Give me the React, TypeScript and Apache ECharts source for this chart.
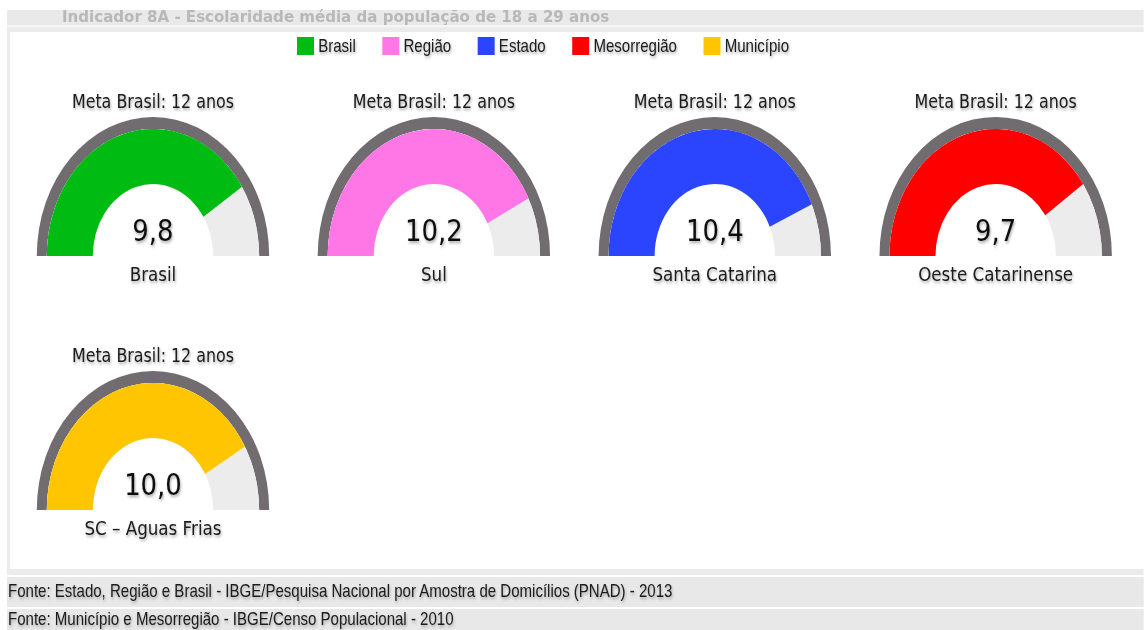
import React, { useEffect, useRef } from "react";
import * as echarts from "echarts";

// ---- data ----
const legendNames = ["Brasil", "Região", "Estado", "Mesorregião", "Município"];
const legendColors = ["#00bb11", "#ff77e6", "#2b45ff", "#ff0000", "#ffc600"];
const gaugeLabels = ["Brasil", "Sul", "Santa Catarina", "Oeste Catarinense", "SC – Aguas Frias"];
const gaugeValues = [9.8, 10.2, 10.4, 9.7, 10.0];
const gaugeMin = 0;
const gaugeMax = 12;
const metaLabel = "Meta Brasil: 12 anos";
const pageTitle = "Indicador 8A - Escolaridade média da população de 18 a 29 anos";
const footnotes = [
  "Fonte: Estado, Região e Brasil - IBGE/Pesquisa Nacional por Amostra de Domicílios (PNAD) - 2013",
  "Fonte: Município e Mesorregião - IBGE/Censo Populacional - 2010",
];

// ---- layout (unscaled coordinates; the whole picture is squeezed horizontally) ----
const SX = 0.836;
const W = Math.round(1144 / SX);
const H = 630;
const colX = [183, 519, 855, 1191];
const rowY = [256, 510];
const R_OUT = 139;
const RING_W = 12;
const R_BAND = R_OUT - RING_W;
const BAND_W = 55;

const shadow = {
  textShadowColor: "rgba(0,0,0,0.35)",
  textShadowBlur: 3,
  textShadowOffsetX: 1,
  textShadowOffsetY: 2,
};

const px = (x: number) => x / SX;

export default function App() {
  const ref = useRef<HTMLDivElement>(null);
  useEffect(() => {
    document.body.style.margin = "0";
    document.body.style.overflow = "hidden";
    const chart = echarts.init(ref.current!, null, { renderer: "svg" });

    const series: any[] = [];
    const graphics: any[] = [];
    gaugeValues.forEach((v, i) => {
      const cx = colX[i % 4];
      const cy = rowY[Math.floor(i / 4)];
      const common = {
        type: "gauge",
        center: [cx, cy],
        startAngle: 180,
        endAngle: 0,
        min: gaugeMin,
        max: gaugeMax,
        pointer: { show: false },
        axisTick: { show: false },
        splitLine: { show: false },
        axisLabel: { show: false },
        anchor: { show: false },
      };
      series.push({
        ...common,
        radius: R_OUT,
        axisLine: { lineStyle: { width: RING_W, color: [[1, "#716c6f"]] } },
        title: { show: false },
        detail: { show: false },
        data: [{ value: 0 }],
        silent: true,
      });
      series.push({
        ...common,
        name: legendNames[i],
        radius: R_BAND,
        itemStyle: { color: legendColors[i] },
        axisLine: { lineStyle: { width: BAND_W, color: [[1, "#ececec"]] } },
        progress: { show: true, width: BAND_W, itemStyle: { color: legendColors[i] } },
        title: {
          offsetCenter: [0, 18],
          fontSize: 20,
          color: "#1a1a1a",
          fontFamily: "DejaVu Sans",
          ...shadow,
        },
        detail: {
          offsetCenter: [0, -26],
          fontSize: 31,
          color: "#111",
          fontFamily: "DejaVu Sans",
          fontWeight: "normal",
          valueAnimation: false,
          formatter: (val: number) => val.toFixed(1).replace(".", ","),
          ...shadow,
        },
        data: [{ value: v, name: gaugeLabels[i], itemStyle: { color: legendColors[i] } }],
      });
      graphics.push({
        type: "text",
        x: cx,
        y: cy - 155,
        z: 10,
        style: {
          text: metaLabel,
          fontSize: 19,
          fontFamily: "DejaVu Sans",
          fill: "#1a1a1a",
          align: "center",
          verticalAlign: "middle",
          textShadowColor: "rgba(0,0,0,0.35)",
          textShadowBlur: 3,
          textShadowOffsetX: 1,
          textShadowOffsetY: 2,
        },
      });
    });

    const bg: any[] = [
      { type: "rect", z: 0, shape: { x: px(7), y: 10, width: W, height: 15 }, style: { fill: "#e9e9e9" } },
      {
        type: "text",
        x: px(62),
        y: 17.5,
        z: 1,
        scaleX: 1.2,
        style: {
          text: pageTitle,
          fontSize: 15,
          fontWeight: "bold",
          fontFamily: "DejaVu Sans",
          fill: "#b8b8b8",
          align: "left",
          verticalAlign: "middle",
        },
      },
      { type: "rect", z: 0, shape: { x: px(7), y: 25, width: W, height: 2 }, style: { fill: "#f5f5f5" } },
      { type: "rect", z: 0, shape: { x: px(7), y: 27, width: W, height: 5 }, style: { fill: "#ebebeb" } },
      { type: "rect", z: 0, shape: { x: px(7), y: 27, width: px(3), height: 548 }, style: { fill: "#ebebeb" } },
      { type: "rect", z: 0, shape: { x: px(7), y: 569, width: W, height: 6 }, style: { fill: "#ebebeb" } },
      { type: "rect", z: 0, shape: { x: px(7), y: 577, width: W, height: 30 }, style: { fill: "#e8e8e8" } },
      { type: "rect", z: 0, shape: { x: px(7), y: 609, width: W, height: 21 }, style: { fill: "#e8e8e8" } },
    ];
    footnotes.forEach((t, i) => {
      bg.push({
        type: "text",
        x: px(8),
        y: [591, 619][i],
        z: 3,
        style: {
          text: t,
          fontSize: 18,
          fontFamily: "Liberation Sans, Arial, sans-serif",
          fill: "#1a1a1a",
          align: "left",
          verticalAlign: "middle",
          textShadowColor: "rgba(0,0,0,0.3)",
          textShadowBlur: 3,
          textShadowOffsetX: 1,
          textShadowOffsetY: 2,
        },
      });
    });

    chart.setOption({
      animation: false,
      backgroundColor: "#ffffff",
      legend: {
        left: px(297),
        top: 37,
        padding: 0,
        itemWidth: px(17),
        itemHeight: 18,
        itemGap: px(26.5),
        icon: "rect",
        selectedMode: false,
        textStyle: {
          fontSize: 18,
          fontFamily: "Liberation Sans, Arial, sans-serif",
          color: "#1a1a1a",
          ...shadow,
        },
        data: legendNames.map((n, i) => ({ name: n, itemStyle: { color: legendColors[i] } })),
      },
      graphic: [...bg, ...graphics],
      series,
    });
    return () => chart.dispose();
  }, []);
  return (
    <div
      ref={ref}
      style={{
        position: "absolute",
        left: 0,
        top: 0,
        width: W,
        height: H,
        transform: `scaleX(${SX})`,
        transformOrigin: "0 0",
      }}
    />
  );
}
